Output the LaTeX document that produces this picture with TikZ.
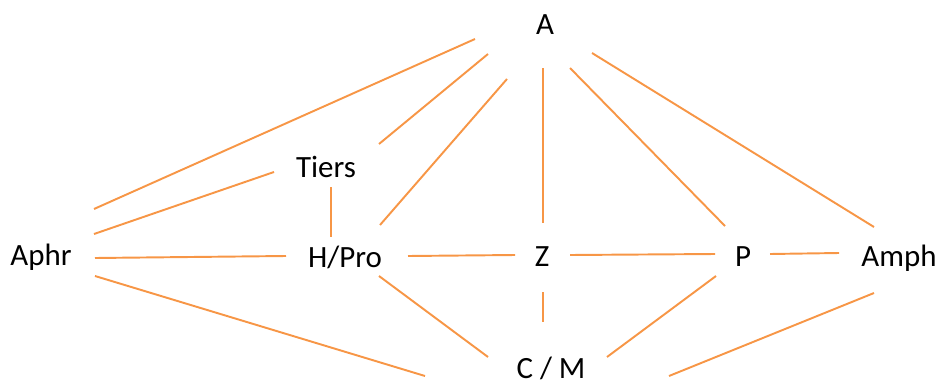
\documentclass[tikz,border=0pt]{standalone}
\usepackage{fontspec}
\setmainfont{Carlito}
\usepackage{tikz}
\usetikzlibrary{positioning}
\definecolor{linkorange}{HTML}{F79646}

\begin{document}
\begin{tikzpicture}[x=0.2mm,y=-0.2mm,
        lbl/.style={anchor=base,inner sep=0pt,font=\fontsize{17.6}{20}\selectfont},
        link/.style={draw=linkorange,line width=1.1pt}]
        \useasboundingbox (0,0) rectangle (941,383);

        \node[lbl] (a) at (545,35) {A};
        \node[lbl] (tiers) at (326,177) {Tiers};
        \node[lbl] (aphr) at (41,265) {Aphr};
        \node[lbl] (hpro) at (345,267) {H/Pro};
        \node[lbl] (z) at (542,266) {Z};
        \node[lbl] (p) at (743,266) {P};
        \node[lbl] (amph) at (899,266) {Amph};
        \node[lbl] (cm) at (551,378) {C / M};

        % from A
        \draw[link] ([shift={(-70,4)}]a.base) -- ([shift={(53,-56)}]aphr.base);
        \draw[link] ([shift={(-57,19)}]a.base) -- ([shift={(53,-33)}]tiers.base);
        \draw[link] ([shift={(-38,44)}]a.base) -- ([shift={(35,-42)}]hpro.base);
        \draw[link] ([shift={(-2,33)}]a.base) -- ([shift={(1,-43)}]z.base);
        \draw[link] ([shift={(25,33)}]a.base) -- ([shift={(-18,-40)}]p.base);
        \draw[link] ([shift={(47,18)}]a.base) -- ([shift={(-25,-39)}]amph.base);

        % Tiers
        \draw[link] ([shift={(-52,-5)}]tiers.base) -- ([shift={(53,-31)}]aphr.base);
        \draw[link] ([shift={(5,10)}]tiers.base) -- ([shift={(-14,-30)}]hpro.base);

        % middle row
        \draw[link] ([shift={(54,-7)}]aphr.base) -- ([shift={(-59,-11)}]hpro.base);
        \draw[link] ([shift={(63,-11)}]hpro.base) -- ([shift={(-27,-11)}]z.base);
        \draw[link] ([shift={(28,-11)}]z.base) -- ([shift={(-28,-12)}]p.base);
        \draw[link] ([shift={(27,-12)}]p.base) -- ([shift={(-60,-13)}]amph.base);

        % to C / M
        \draw[link] ([shift={(54,11)}]aphr.base) -- ([shift={(-126,-2)}]cm.base);
        \draw[link] ([shift={(34,9)}]hpro.base) -- ([shift={(-63,-21)}]cm.base);
        \draw[link] ([shift={(1,26)}]z.base) -- ([shift={(-8,-56)}]cm.base);
        \draw[link] ([shift={(-27,10)}]p.base) -- ([shift={(56,-21)}]cm.base);
        \draw[link] ([shift={(-25,27)}]amph.base) -- ([shift={(118,-2)}]cm.base);
\end{tikzpicture}
\end{document}
